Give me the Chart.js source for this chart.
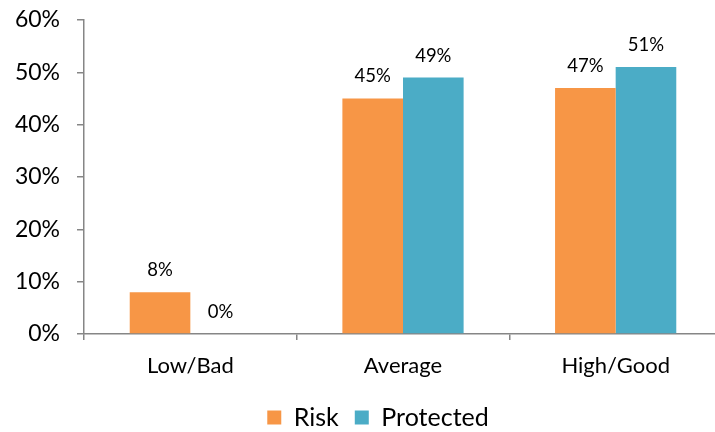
<!DOCTYPE html>
<html>
<head>
<meta charset="utf-8">
<script src="https://cdn.jsdelivr.net/npm/chart.js@4/dist/chart.umd.min.js"></script>
<style>
  html, body { margin: 0; padding: 0; background: #fff; overflow: hidden; }
  #wrap { width: 726px; height: 432px; }
</style>
</head>
<body>
<div id="wrap"><canvas id="c" width="726" height="432"></canvas></div>
<script>
const categories = ["Low/Bad", "Average", "High/Good"];
const riskValues = [8, 45, 47];
const protectedValues = [0, 49, 51];
const yTicks = [0, 10, 20, 30, 40, 50, 60];

const FONT = "Lato, 'Open Sans', sans-serif";
const AXIS = "#868686";

// Writes each bar's value above it
const valueLabels = {
  id: "valueLabels",
  afterDatasetsDraw(chart) {
    const ctx = chart.ctx;
    ctx.save();
    ctx.font = "18.5px " + FONT;
    ctx.fillStyle = "#000";
    ctx.textAlign = "center";
    ctx.textBaseline = "middle";
    chart.data.datasets.forEach((ds, i) => {
      chart.getDatasetMeta(i).data.forEach((bar, j) => {
        ctx.fillText(ds.data[j] + "%", bar.x, bar.y - 22);
      });
    });
    ctx.restore();
  }
};

// Nudges the legend row a little to the right of the canvas centre
const legendShift = {
  id: "legendShift",
  afterLayout(chart) {
    const lg = chart.legend;
    if (lg) { lg.left += 17; lg.right += 17; }
  }
};

new Chart(document.getElementById("c"), {
  type: "bar",
  data: {
    labels: categories,
    datasets: [
      { label: "Risk", data: riskValues, backgroundColor: "#F79646" },
      { label: "Protected", data: protectedValues, backgroundColor: "#4BACC6" }
    ]
  },
  options: {
    responsive: false,
    animation: false,
    events: [],
    layout: { padding: { top: 20, right: 4, left: 0, bottom: -8 } },
    datasets: { bar: { categoryPercentage: 0.57, barPercentage: 1.0 } },
    plugins: {
      legend: {
        position: "bottom",
        labels: {
          boxWidth: 14, boxHeight: 14, padding: 16,
          color: "#000",
          font: { family: FONT, size: 25 }
        }
      },
      tooltip: { enabled: false }
    },
    scales: {
      x: {
        grid: { display: true, offset: true, drawOnChartArea: false, drawTicks: true, tickLength: 6, color: AXIS, lineWidth: 1.5 },
        border: { color: AXIS, width: 1.5 },
        ticks: { color: "#000", font: { family: FONT, size: 22 }, padding: 13 },
        afterFit(s) { s.height = 55; }
      },
      y: {
        min: 0, max: 60,
        afterBuildTicks(s) { s.ticks = yTicks.map(v => ({ value: v })); },
        grid: { display: true, drawOnChartArea: false, drawTicks: true, tickLength: 7, color: AXIS, lineWidth: 1.5 },
        border: { color: AXIS, width: 1.5 },
        ticks: { color: "#000", font: { family: FONT, size: 23 }, padding: 17, callback: v => v + "%" },
        afterFit(s) { s.width = 84; s.paddingTop = 0; s.paddingBottom = 0; }
      }
    }
  },
  plugins: [valueLabels, legendShift]
});
</script>
</body>
</html>
